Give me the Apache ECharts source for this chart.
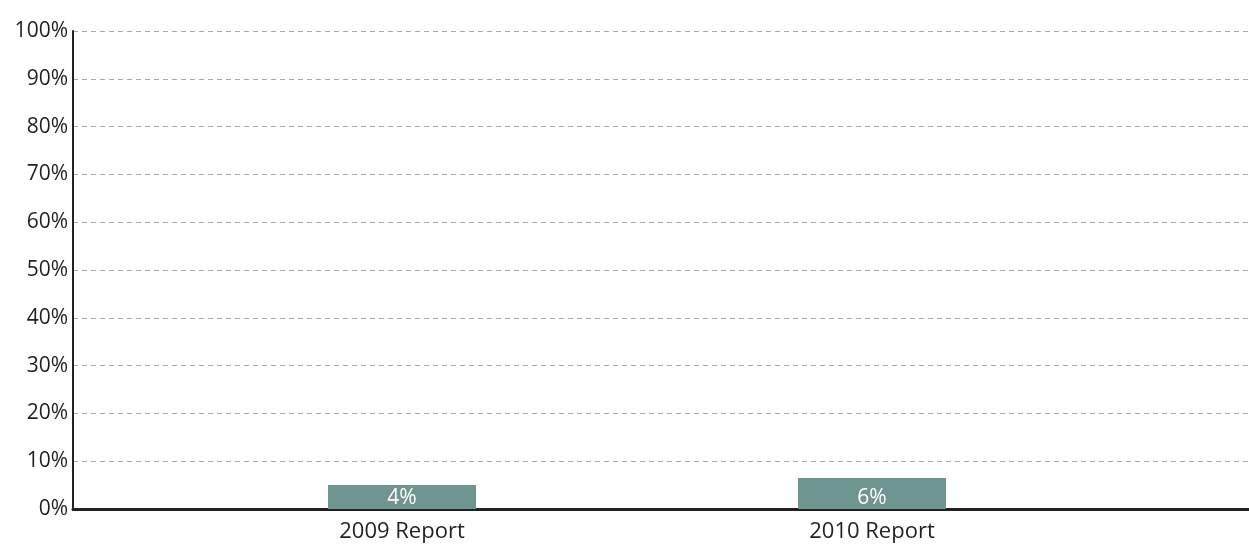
<!DOCTYPE html>
<html>
<head>
<meta charset="utf-8">
<script src="https://cdn.jsdelivr.net/npm/echarts@6/dist/echarts.min.js"></script>
<style>
  html, body { margin: 0; padding: 0; background: #fff; }
  #chart { width: 1249px; height: 545px; }
</style>
</head>
<body>
<div id="chart"></div>
<script>
let categories = ['2009 Report', '2010 Report'];
let seriesData = [5, 6.5];
let barLabels = ['4%', '6%'];
let yTicks = [0, 10, 20, 30, 40, 50, 60, 70, 80, 90, 100];

window.onload = function() {
    let myChart = echarts.init(document.getElementById('chart'));
    let font = '"Open Sans", sans-serif';

    let option = {
        animation: false,
        grid: [
            // full frame with axes and gridlines
            { left: 73, right: 0, top: 31, bottom: 36 },
            // inner grid that positions the two bars
            { left: 167, right: 142, top: 31, bottom: 36 }
        ],
        xAxis: [
            {
                gridIndex: 0,
                type: 'category',
                data: [''],
                axisLine: { lineStyle: { color: '#231f20', width: 3 } },
                axisTick: { show: false },
                axisLabel: { show: false }
            },
            {
                gridIndex: 1,
                type: 'category',
                data: categories,
                axisLine: { show: false },
                axisTick: { show: false },
                axisLabel: {
                    color: '#231f20',
                    fontFamily: font,
                    fontSize: 22,
                    margin: 12
                }
            }
        ],
        yAxis: [
            {
                gridIndex: 0,
                type: 'value',
                min: 0,
                max: 100,
                interval: 10,
                axisLine: { show: true, lineStyle: { color: '#231f20', width: 2 } },
                axisTick: { show: false },
                axisLabel: {
                    color: '#231f20',
                    fontFamily: font,
                    fontSize: 21,
                    margin: 5,
                    formatter: function(v) {
                        return yTicks.indexOf(v) >= 0 ? v + '%' : '';
                    }
                },
                splitLine: {
                    lineStyle: { color: '#a8a8a8', type: [5, 4], width: 1 }
                }
            },
            {
                gridIndex: 1,
                type: 'value',
                min: 0,
                max: 100,
                show: false,
                splitLine: { show: false }
            }
        ],
        series: [
            {
                type: 'bar',
                xAxisIndex: 1,
                yAxisIndex: 1,
                data: seriesData,
                barWidth: 148,
                itemStyle: { color: '#6e958f' },
                label: {
                    show: true,
                    position: 'insideBottom',
                    distance: 0,
                    color: '#fff',
                    fontFamily: font,
                    fontSize: 21,
                    formatter: function(p) { return barLabels[p.dataIndex]; }
                }
            }
        ]
    };
    myChart.setOption(option);
};
</script>
</body>
</html>
